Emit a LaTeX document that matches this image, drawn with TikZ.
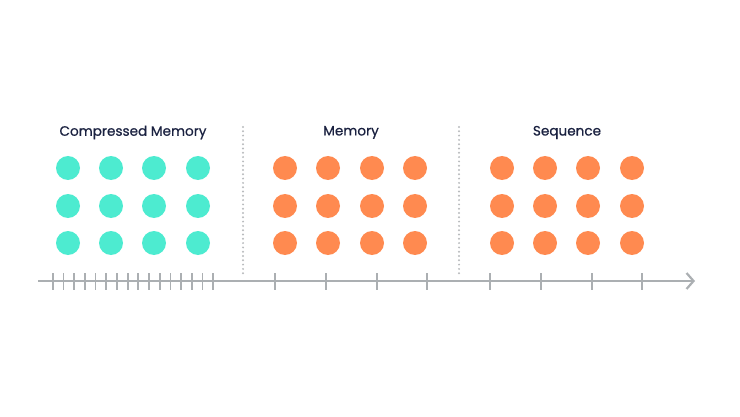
\documentclass[tikz,border=0pt]{standalone}
\usepackage{fontspec}
\setmainfont{Poppins}
\newfontfamily\titlefont{Poppins}[FakeBold=0.6]
\usepackage{tikz}
\usetikzlibrary{positioning}
\usetikzlibrary{arrows.meta}
\definecolor{teal1}{HTML}{4DEBD0}
\definecolor{orange1}{HTML}{FF8A50}
\definecolor{axisgray}{HTML}{ABAFB2}
\definecolor{navy}{HTML}{1A2140}
\tikzstyle{cdot}=[circle,fill=teal1,minimum size=24pt,inner sep=0pt]
\tikzstyle{mdot}=[circle,fill=orange1,minimum size=24pt,inner sep=0pt]
\tikzstyle{title}=[font=\titlefont\fontsize{13.6}{16}\selectfont,text=navy]
\tikzstyle{tick} = [draw,axisgray,line width=1.8pt]
\tikzstyle{divider} = [draw,axisgray!85,line width=2.2pt,line cap=round,dash pattern=on 0pt off 4.3pt]
\tikzstyle{axis} = [draw,axisgray,line width=2.2pt,-{Straight Barb[length=7pt,width=16pt,line width=2.2pt]}]

\begin{document}
\begin{tikzpicture}[x=1pt,y=1pt]

    \useasboundingbox (0,0) rectangle (740,416);

    \def\rowA{248};
    \def\rowB{210};
    \def\rowC{173};

    % titles
    \node[title] (Tc) at (133,283.5) {Compressed Memory};
    \node[title] (Tm) at (351,283.5) {Memory};
    \node[title] (Ts) at (567,283.5) {Sequence};

    % dots
    \foreach \i/\x in {1/68, 2/111, 3/154, 4/198}
    {
        \node[cdot] (C1\i) at (\x,\rowA) {};
        \node[cdot] (C2\i) at (\x,\rowB) {};
        \node[cdot] (C3\i) at (\x,\rowC) {};
    }
    \foreach \i/\x in {1/285, 2/328, 3/372, 4/415}
    {
        \node[mdot] (M1\i) at (\x,\rowA) {};
        \node[mdot] (M2\i) at (\x,\rowB) {};
        \node[mdot] (M3\i) at (\x,\rowC) {};
    }
    \foreach \i/\x in {1/502, 2/545, 3/588, 4/632}
    {
        \node[mdot] (S1\i) at (\x,\rowA) {};
        \node[mdot] (S2\i) at (\x,\rowB) {};
        \node[mdot] (S3\i) at (\x,\rowC) {};
    }

    % separators
    \coordinate (D1top) at (243,289);
    \coordinate (D1bot) at (243,140);
    \coordinate (D2top) at (459,289);
    \coordinate (D2bot) at (459,140);
    \path[divider] (D1top) -- (D1bot);
    \path[divider] (D2top) -- (D2bot);

    % time axis
    \coordinate (A0) at (38,135);
    \coordinate (A1) at (695,135);
    \path[axis] (A0) -- (A1);

    \foreach \n in {0,...,15}
        \path[tick] (52.7+\n*10.7,143) -- (52.7+\n*10.7,126);
    \foreach \x in {275,326,377,427,490,541,592,642}
        \path[tick] (\x,143) -- (\x,126);

\end{tikzpicture}
\end{document}
